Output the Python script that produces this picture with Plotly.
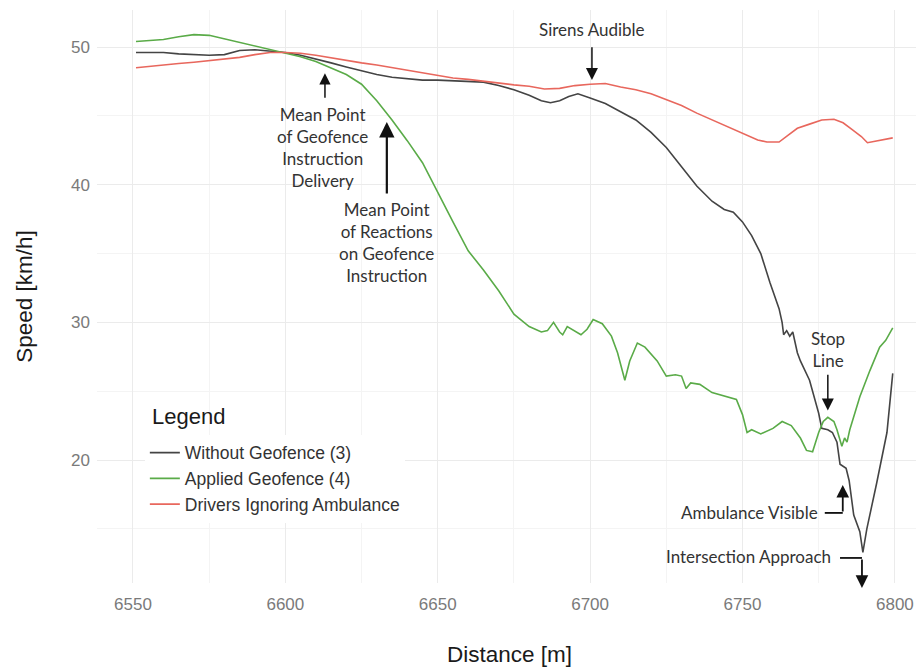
import plotly.graph_objects as go

# ---------------- data ----------------
series_names = ["Without Geofence (3)", "Applied Geofence (4)", "Drivers Ignoring Ambulance"]

dist_without = [6551, 6555, 6560, 6565, 6570, 6575, 6580, 6585, 6590, 6595, 6600, 6605, 6610,
                6615, 6620, 6625, 6630, 6635, 6640, 6645, 6650, 6655, 6660, 6665, 6670, 6675,
                6680, 6684, 6687, 6690, 6693, 6696, 6700, 6705, 6710, 6715, 6720, 6725, 6730,
                6735, 6740, 6744, 6747, 6750, 6753, 6756, 6759, 6762, 6763, 6763.5, 6764.5,
                6765.5, 6766.5, 6768, 6769, 6772, 6775, 6776, 6778, 6779.5, 6781, 6782, 6784,
                6785, 6786.5, 6788.5, 6789.5, 6790.8, 6794, 6797.4, 6799.3]
speed_without = [49.6, 49.6, 49.6, 49.5, 49.45, 49.4, 49.45, 49.75, 49.8, 49.7, 49.6, 49.4, 49.15,
                 48.85, 48.55, 48.25, 48.0, 47.8, 47.7, 47.6, 47.6, 47.55, 47.5, 47.45, 47.2, 46.9,
                 46.5, 46.1, 45.95, 46.1, 46.4, 46.6, 46.3, 45.9, 45.3, 44.7, 43.8, 42.7, 41.3,
                 39.9, 38.8, 38.2, 38.0, 37.3, 36.3, 35.0, 32.9, 31.0, 30.0, 29.1, 29.4,
                 29.0, 29.3, 27.8, 27.2, 25.8, 23.4, 22.3, 22.2, 22.0, 21.3, 19.7, 19.4,
                 18.5, 16.0, 14.8, 13.3, 15.0, 18.3, 22.0, 26.3]

dist_applied = [6551, 6555, 6560, 6565, 6570, 6575, 6580, 6585, 6590, 6595, 6600, 6605, 6610,
                6615, 6620, 6625, 6630, 6635, 6640, 6645, 6650, 6655, 6660, 6665, 6670, 6675,
                6680, 6684, 6686, 6688, 6690, 6691, 6692.5, 6694, 6697, 6699, 6701, 6704, 6707,
                6709, 6711.4, 6713, 6715.5, 6718, 6722, 6725, 6728, 6730, 6731.5, 6733, 6736,
                6740, 6745, 6748, 6750, 6751.5, 6753, 6756, 6760, 6763, 6766, 6769, 6771, 6773,
                6775, 6776.5, 6778, 6780, 6781, 6782.6, 6783.5, 6784.3, 6785.2, 6788.5, 6791.8,
                6795, 6797, 6799.3]
speed_applied = [50.4, 50.45, 50.55, 50.75, 50.9, 50.85, 50.6, 50.35, 50.1, 49.85, 49.55, 49.3, 48.95,
                 48.5, 48.0, 47.3, 46.1, 44.7, 43.2, 41.6, 39.4, 37.3, 35.2, 33.8, 32.3, 30.6,
                 29.7, 29.3, 29.4, 30.0, 29.3, 29.1, 29.7, 29.5, 29.1, 29.5, 30.2, 29.9, 29.0,
                 27.8, 25.8, 27.2, 28.5, 28.2, 27.2, 26.1, 26.2, 26.1, 25.2, 25.6, 25.5,
                 24.9, 24.6, 24.4, 23.3, 22.0, 22.2, 21.9, 22.3, 22.8, 22.5, 21.6, 20.7, 20.6,
                 22.0, 22.8, 23.1, 22.8, 22.2, 21.0, 21.6, 21.3, 22.2, 24.6, 26.5,
                 28.2, 28.7, 29.6]

dist_ignoring = [6551, 6555, 6560, 6565, 6570, 6575, 6580, 6585, 6590, 6595, 6600, 6605, 6610,
                 6615, 6620, 6625, 6630, 6635, 6640, 6645, 6650, 6655, 6660, 6665, 6670, 6675,
                 6680, 6685, 6690, 6695, 6700, 6705, 6710, 6715, 6720, 6725, 6730, 6735, 6740,
                 6745, 6750, 6755, 6758, 6762, 6765, 6768, 6772, 6776, 6780, 6783, 6786, 6789,
                 6791, 6795, 6799.3]
speed_ignoring = [48.5, 48.6, 48.7, 48.8, 48.9, 49.0, 49.1, 49.25, 49.45, 49.6, 49.6, 49.55, 49.4,
                  49.2, 49.0, 48.85, 48.7, 48.5, 48.3, 48.1, 47.9, 47.75, 47.65, 47.5, 47.35, 47.25,
                  47.15, 46.95, 47.0, 47.2, 47.3, 47.35, 47.1, 46.9, 46.6, 46.2, 45.75, 45.2, 44.7,
                  44.2, 43.7, 43.25, 43.1, 43.1, 43.6, 44.1, 44.4, 44.7, 44.75, 44.5, 44.0, 43.5,
                  43.05, 43.2, 43.4]

x_ticks = [6550, 6600, 6650, 6700, 6750, 6800]
y_ticks = [20, 30, 40, 50]

# ---------------- styling ----------------
colors = ["#444444", "#5aab48", "#e8675d"]
x_range = [6538.2, 6808.9]
y_range = [11.07, 52.69]
ann_font = dict(family="Lato, Open Sans, sans-serif", size=17, color="#333333")
sans = "Liberation Sans, Arial, sans-serif"

fig = go.Figure()
for name, xs, ys, c in zip(series_names,
                           [dist_without, dist_applied, dist_ignoring],
                           [speed_without, speed_applied, speed_ignoring],
                           colors):
    fig.add_trace(go.Scatter(x=xs, y=ys, mode="lines", name=name, legendgroup=name,
                             line=dict(color=c, width=1.6)))

# text labels
labels = [
    ("Mean Point<br>of Geofence<br>Instruction<br>Delivery", 6612.3, 42.7, "center"),
    ("Mean Point<br>of Reactions<br>on Geofence<br>Instruction", 6633.3, 35.8, "center"),
    ("Sirens Audible", 6700.6, 51.3, "center"),
    ("Stop<br>Line", 6778.0, 28.0, "center"),
    ("Ambulance Visible", 6775.4, 16.2, "right"),
    ("Intersection Approach", 6779.7, 12.96, "right"),
]
for t, x, y, xa in labels:
    fig.add_annotation(text=t, x=x, y=y, xref="x", yref="y", showarrow=False,
                       xanchor=xa, yanchor="middle", font=ann_font, align="center")

# arrows: tip x, tip y, tail x, tail y, width, size
arrows = [
    (6613.0, 48.1, 6613.0, 46.2, 1.5, 1.5),
    (6633.3, 44.55, 6633.3, 39.25, 2.2, 1.4),
    (6700.6, 47.6, 6700.6, 50.1, 1.5, 1.6),
    (6778.0, 23.6, 6778.0, 26.3, 1.5, 1.6),
    (6782.9, 18.19, 6782.9, 16.16, 1.8, 1.4),
    (6789.2, 10.71, 6789.2, 12.89, 1.8, 1.4),
]
for x, y, ax, ay, w, s in arrows:
    fig.add_annotation(text="", x=x, y=y, ax=ax, ay=ay, xref="x", yref="y",
                       axref="x", ayref="y", showarrow=True, arrowhead=2,
                       arrowwidth=w, arrowsize=s, arrowcolor="#111111", standoff=0)

# elbow connectors
for x0, x1, y in [(6777.0, 6782.9, 16.16), (6782.0, 6789.2, 12.89)]:
    fig.add_shape(type="line", x0=x0, x1=x1, y0=y, y1=y, xref="x", yref="y",
                  line=dict(color="#111111", width=1.8))

# legend background panel (covers gridlines behind the legend block)
fig.add_shape(type="rect", xref="paper", yref="paper", x0=0.034, x1=0.417, y0=0.045, y1=0.35,
              fillcolor="white", line=dict(width=0), layer="between")
# legend title
fig.add_annotation(text="Legend", xref="paper", yref="paper", x=0.064, y=0.29,
                   xanchor="left", yanchor="middle", showarrow=False,
                   font=dict(family=sans, size=22, color="#1a1a1a"))

tick_font = dict(family=sans, size=17, color="#7a7a7a")
title_font = dict(family=sans, size=22.5, color="#1a1a1a")

fig.update_xaxes(range=x_range, tickvals=x_ticks, ticktext=[str(v) for v in x_ticks],
                 showgrid=True, gridcolor="#ebebeb", gridwidth=1,
                 minor=dict(dtick=25, tick0=6550, showgrid=True, gridcolor="#f4f4f4", gridwidth=1),
                 zeroline=False, showline=False, ticks="", tickfont=tick_font,
                 ticklabelstandoff=9, automargin=False,
                 title=dict(text="Distance [m]", font=title_font, standoff=34))
fig.update_yaxes(range=y_range, tickvals=y_ticks, ticktext=[str(v) for v in y_ticks],
                 showgrid=True, gridcolor="#ebebeb", gridwidth=1,
                 minor=dict(dtick=5, tick0=15, showgrid=True, gridcolor="#f4f4f4", gridwidth=1),
                 zeroline=False, showline=False, ticks="", tickfont=tick_font,
                 ticklabelstandoff=6, automargin=False,
                 title=dict(text="Speed [km/h]", font=title_font, standoff=32))

fig.update_layout(
    width=916, height=659, autosize=False,
    margin=dict(l=89, r=2, t=2, b=84),
    plot_bgcolor="white", paper_bgcolor="white",
    showlegend=True,
    legend=dict(x=0.058, y=0.2587, xanchor="left", yanchor="top",
                bgcolor="white", borderwidth=0, tracegroupgap=0,
                font=dict(family=sans, size=17.5, color="#333333"),
                itemwidth=30),
)

fig.write_html("out.html")
